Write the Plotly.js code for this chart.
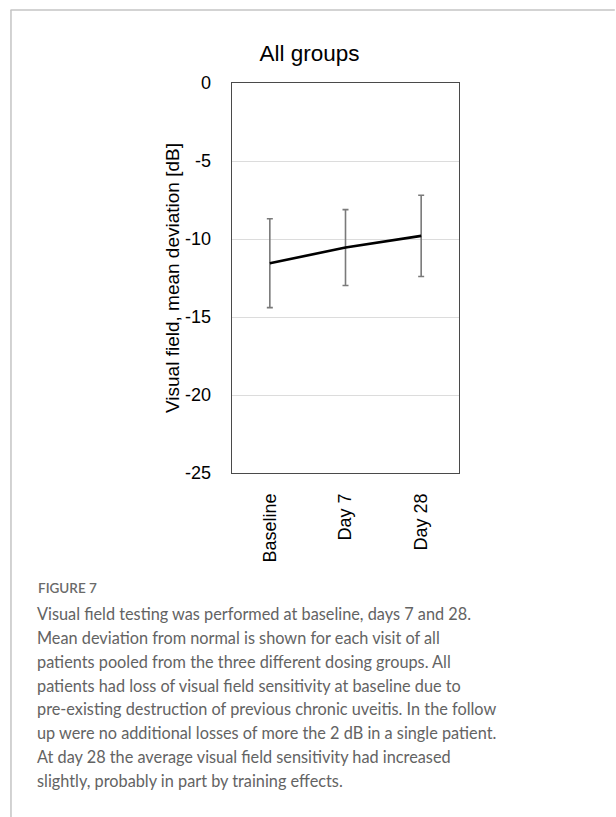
<!DOCTYPE html>
<html>
<head>
<meta charset="utf-8">
<script src="https://cdn.plot.ly/plotly-3.0.1.min.js"></script>
<style>
html,body{margin:0;padding:0;background:#fff;}
#chart{width:616px;height:817px;}
</style>
</head>
<body>
<div id="chart"></div>
<script>
// ---- data ----
const visits = ["Baseline", "Day 7", "Day 28"];
const meanDeviation = [-11.55, -10.55, -9.8];
const errorSize = [2.85, 2.43, 2.6];
const yTickValues = [0, -5, -10, -15, -20, -25];
const yTickLabels = ["0", "-5", "-10", "-15", "-20", "-25"];
const chartTitle = "All groups";
const yAxisTitle = "Visual field, mean deviation [dB]";
const figureLabel = "FIGURE 7";
const captionLines = [
  "Visual field testing was performed at baseline, days 7 and 28.",
  "Mean deviation from normal is shown for each visit of all",
  "patients pooled from the three different dosing groups. All",
  "patients had loss of visual field sensitivity at baseline due to",
  "pre-existing destruction of previous chronic uveitis. In the follow",
  "up were no additional losses of more the 2 dB in a single patient.",
  "At day 28 the average visual field sensitivity had increased",
  "slightly, probably in part by training effects."
];

// ---- layout geometry (pixels) ----
const W = 616, H = 817;
const L = 231.5, R = 459.5, T = 83, B = 473;
const px = x => (x - L) / (R - L);
const py = y => (B - y) / (B - T);

const frameColor = "#c4c4c4";
const shapes = [
  {type: "line", xref: "paper", yref: "paper", x0: px(9), x1: px(616), y0: py(10), y1: py(10),
   line: {color: frameColor, width: 1.5}},
  {type: "line", xref: "paper", yref: "paper", x0: px(9.5), x1: px(9.5), y0: py(10), y1: py(817),
   line: {color: frameColor, width: 1.5}}
];

const capFont = "Lato, 'Open Sans', 'Noto Sans', sans-serif";
const annotations = [
  {xref: "paper", yref: "paper", x: px(35), y: py(588), xanchor: "left", yanchor: "middle",
   text: figureLabel, showarrow: false,
   font: {family: capFont, size: 13.5, color: "#6a6a6a", weight: 600}}
];
captionLines.forEach((t, i) => {
  annotations.push({xref: "paper", yref: "paper", x: px(34), y: py(613.5 + i * 23.85),
    xanchor: "left", yanchor: "middle", text: t, showarrow: false,
    font: {family: capFont, size: 16.3, color: "#636363"}});
});

const trace = {
  type: "scatter",
  mode: "lines",
  x: visits,
  y: meanDeviation,
  line: {color: "#000000", width: 2.6},
  error_y: {type: "data", array: errorSize, visible: true, color: "#7a7a7a", thickness: 1.6, width: 3},
  hoverinfo: "none"
};

const axFont = {family: "'Liberation Sans', Arial, sans-serif", size: 18, color: "#000"};

const layout = {
  width: W, height: H,
  margin: {l: L, r: W - R, t: T, b: H - B, pad: 0},
  paper_bgcolor: "#fff", plot_bgcolor: "#fff",
  showlegend: false,
  title: {
    text: chartTitle,
    font: {family: "'Liberation Sans', Arial, sans-serif", size: 22.5, color: "#000"},
    xref: "container", yref: "container",
    x: 309.5 / W, xanchor: "center",
    y: 1 - 53 / H, yanchor: "middle"
  },
  xaxis: {
    type: "category",
    range: [-0.5, 2.5],
    tickangle: -90,
    tickfont: axFont,
    showgrid: false,
    showline: true, linecolor: "#4a4a4a", linewidth: 1.3, mirror: true,
    ticks: "", ticklabelstandoff: 12,
    zeroline: false, fixedrange: true
  },
  yaxis: {
    range: [-25, 0],
    tickvals: yTickValues,
    ticktext: yTickLabels,
    tickfont: axFont,
    showgrid: true, gridcolor: "#dcdcdc", gridwidth: 1,
    showline: true, linecolor: "#4a4a4a", linewidth: 1.3, mirror: true,
    ticks: "", ticklabelstandoff: 16,
    zeroline: false, fixedrange: true,
    automargin: false,
    title: {text: yAxisTitle, font: {family: "'Liberation Sans', Arial, sans-serif", size: 19, color: "#000"}, standoff: 0}
  },
  shapes: shapes,
  annotations: annotations
};

Plotly.newPlot("chart", [trace], layout, {displayModeBar: false, staticPlot: true});
</script>
</body>
</html>
